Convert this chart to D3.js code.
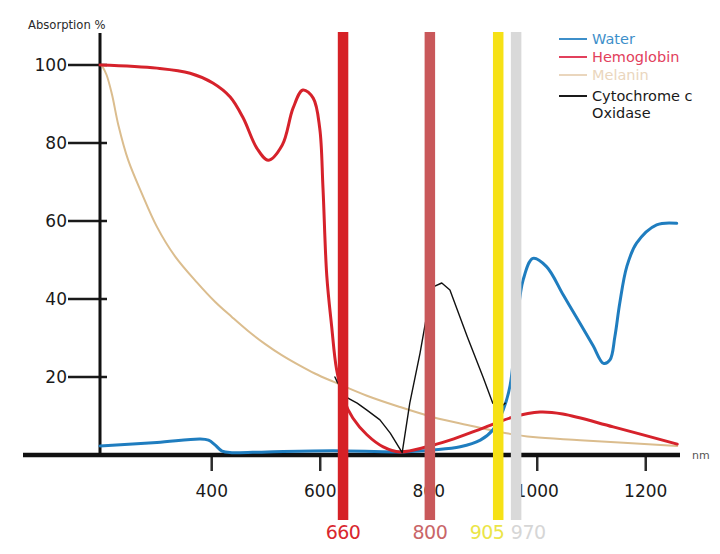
<!DOCTYPE html>
<html>
<head>
<meta charset="utf-8">
<script src="https://cdn.jsdelivr.net/npm/d3@7"></script>
<style>
  html, body { margin: 0; padding: 0; background: #fff; }
  svg { display: block; }
  text { font-family: "DejaVu Sans", sans-serif; }
</style>
</head>
<body>
<svg id="chart" width="720" height="554"></svg>
<script>
// ---------- data ----------
const xTicks = [400, 600, 800, 1000, 1200];
const yTicks = [20, 40, 60, 80, 100];

const waterNm  = [195, 300, 380, 395, 407, 420, 438, 503, 625, 748, 809, 859, 896, 919, 938, 951, 964, 975, 993, 1018, 1049, 1080, 1104, 1123, 1135, 1144, 1153, 1166, 1184, 1221, 1258];
const waterVal = [2.3, 3.2, 4.1, 3.8, 2.6, 1.0, 0.6, 0.8, 1.1, 0.8, 1.3, 2.1, 3.8, 6.4, 11.5, 17.9, 34.6, 44.9, 50.4, 48.3, 41.0, 33.7, 28.0, 23.5, 24.4, 30.3, 38.9, 48.3, 54.3, 59, 59.4];

const hbNm  = [195, 300, 361, 403, 435, 459, 484, 505, 531, 551, 569, 588, 600, 606, 613, 622, 631, 645, 661, 687, 717, 748, 798, 840, 901, 956, 1006, 1048, 1141, 1259];
const hbVal = [100, 99.2, 97.9, 95.4, 91.8, 86.4, 78.7, 75.6, 79.5, 89, 93.6, 91.5, 83.8, 68.5, 46, 33, 22, 14, 9.5, 5.2, 2.1, 0.8, 2.1, 3.8, 6.9, 9.7, 11, 10.5, 7.2, 2.8];

const melNm  = [198, 207, 217, 229, 247, 272, 300, 333, 374, 407, 438, 468, 499, 530, 561, 591, 625, 687, 748, 809, 872, 932, 993, 1080, 1259];
const melVal = [100, 97.5, 92.5, 84.5, 75.6, 67.1, 58.5, 51, 44.2, 39.3, 35.4, 31.8, 28.5, 25.6, 23.1, 20.9, 18.8, 15.2, 12.3, 9.7, 7.7, 5.9, 4.6, 3.8, 2.3];

const cytNm  = [628, 633, 637, 652, 669, 687, 711, 730, 752, 766, 785, 798, 809, 825, 840, 872, 901, 919, 932, 942];
const cytVal = [20, 18.5, 17.9, 14.6, 13.3, 11.5, 9, 5.6, 0.6, 13.3, 26.2, 36.4, 43.1, 44.1, 42.3, 30.3, 20, 13.3, 12.1, 13.3];

const seriesNames = ["Water", "Hemoglobin", "Melanin", "Cytochrome c\nOxidase"];

const bandPos    = [643, 803, 929, 962];
const bandLabels = ["660", "800", "905", "970"];

// ---------- styles ----------
const lineColors   = ["#1f7dbf", "#d6222b", "#dbbd8e", "#111111"];
const legendColors = ["#3d8fca", "#e2405c", "#ead6bd", "#1a1a1a"];
const lineWidths   = [3, 3, 2, 1.4];
const bandColors   = ["#d62126", "#c9585a", "#f6e116", "#d9d9d9"];
const bandTextCols = ["#d9272e", "#c96668", "#ebe548", "#d6d6d6"];

// ---------- scales ----------
const svg = d3.select("#chart");
const x = d3.scaleLinear().domain([195, 1265]).range([100, 680.5]);
const y = d3.scaleLinear().domain([0, 100]).range([455, 65]);

// ---------- axes ----------
const xAxis = d3.axisBottom(x).tickValues(xTicks).tickSize(16).tickPadding(14).tickFormat(d3.format("d"));
const gx = svg.append("g").attr("transform", "translate(0,455)").call(xAxis);
gx.select(".domain").remove();
gx.selectAll(".tick line").attr("stroke", "#2b2b2b").attr("stroke-width", 2.5);
gx.selectAll(".tick text").attr("fill", "#1a1a1a").style("font-size", "17px").attr("dy", "0.71em");

svg.append("line").attr("x1", 23).attr("x2", 680).attr("y1", 455).attr("y2", 455)
  .attr("stroke", "#111").attr("stroke-width", 4.5);

// y axis ticks (cross the axis line)
const gy = svg.append("g");
const yt = gy.selectAll("g.ytick").data(yTicks).enter().append("g").attr("class", "ytick")
  .attr("transform", d => `translate(0,${y(d)})`);
yt.append("line").attr("x1", 68).attr("x2", 107).attr("stroke", "#1a1a1a").attr("stroke-width", 2.5);
yt.append("text").attr("x", 67).attr("dy", "0.36em").attr("text-anchor", "end")
  .style("font-size", "17px").attr("fill", "#1a1a1a").text(d => d);

svg.append("line").attr("x1", 100).attr("x2", 100).attr("y1", 33).attr("y2", 455)
  .attr("stroke", "#111").attr("stroke-width", 3);

svg.append("text").attr("x", 28).attr("y", 29).text("Absorption %")
  .style("font-size", "11.6px").attr("fill", "#2a2a2a");
svg.append("text").attr("x", 692).attr("y", 459).text("nm")
  .style("font-size", "11px").attr("fill", "#555");

// ---------- curves ----------
const smooth = d3.curveCatmullRom.alpha(0.5);
const series = [
  {nm: waterNm, val: waterVal, curve: smooth},
  {nm: hbNm, val: hbVal, curve: smooth},
  {nm: melNm, val: melVal, curve: smooth},
  {nm: cytNm, val: cytVal, curve: d3.curveLinear}
];
const drawOrder = [2, 0, 1, 3];
drawOrder.forEach(i => {
  const s = series[i];
  const pts = s.nm.map((n, k) => [n, s.val[k]]);
  const line = d3.line().x(d => x(d[0])).y(d => y(d[1])).curve(s.curve);
  svg.append("path").datum(pts).attr("d", line)
    .attr("fill", "none").attr("stroke", lineColors[i]).attr("stroke-width", lineWidths[i])
    .attr("stroke-linejoin", "round").attr("stroke-linecap", "round");
});

// ---------- bands ----------
const bandW = 10.5;
const bg = svg.append("g");
bandPos.forEach((p, i) => {
  bg.append("rect").attr("x", x(p) - bandW / 2).attr("y", 32).attr("width", bandW).attr("height", 488)
    .attr("fill", bandColors[i]);
  let anchor = "middle", tx = x(p);
  const prevClose = i > 0 && x(p) - x(bandPos[i - 1]) < 36;
  const nextClose = i < bandPos.length - 1 && x(bandPos[i + 1]) - x(p) < 36;
  if (nextClose) { anchor = "end"; tx = x(p) + bandW / 2 + 1; }
  else if (prevClose) { anchor = "start"; tx = x(p) - bandW / 2; }
  bg.append("text").attr("x", tx).attr("y", 539).attr("text-anchor", anchor)
    .text(bandLabels[i]).style("font-size", "19px").style("letter-spacing", "-0.5px")
    .attr("fill", bandTextCols[i]);
});

// ---------- legend ----------
const lg = svg.append("g");
const rowY = [39, 57, 75, 96];
seriesNames.forEach((name, i) => {
  lg.append("line").attr("x1", 559).attr("x2", 587).attr("y1", rowY[i]).attr("y2", rowY[i])
    .attr("stroke", legendColors[i]).attr("stroke-width", 2);
  const t = lg.append("text").attr("x", 592).attr("y", rowY[i] + 5)
    .style("font-size", "14.5px").attr("fill", legendColors[i]);
  name.split("\n").forEach((part, k) => {
    t.append("tspan").attr("x", 592).attr("dy", k === 0 ? 0 : 17).text(part);
  });
});
</script>
</body>
</html>
